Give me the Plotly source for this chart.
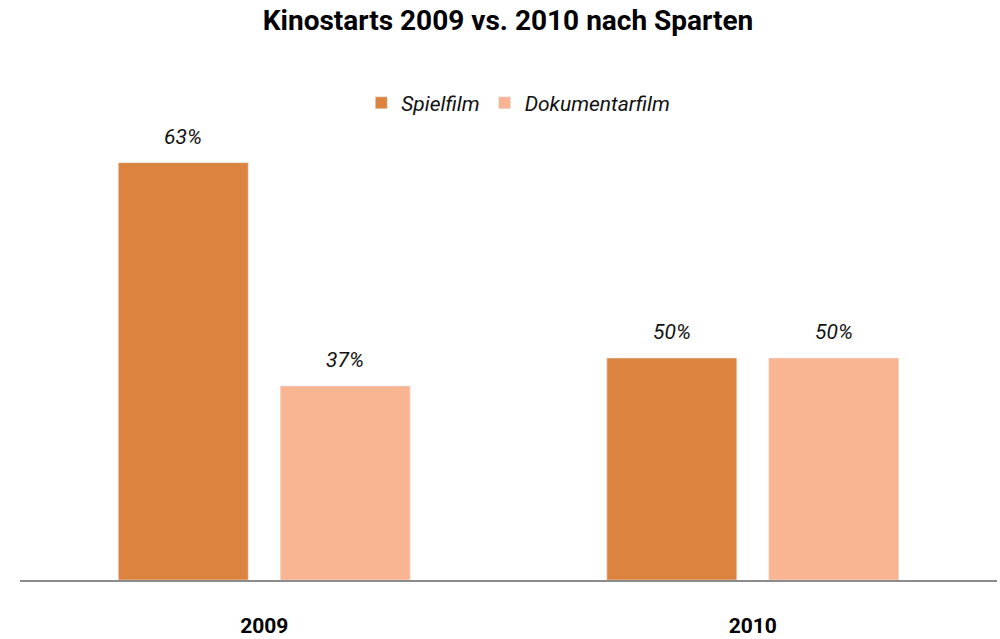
import plotly.graph_objects as go

years = ["2009", "2010"]
spielfilm = [94, 50]          # bar heights as drawn
dokumentarfilm = [43.7, 50]
spielfilm_labels = ["63%", "50%"]
doku_labels = ["37%", "50%"]

c_spiel = "#DC843F"
c_doku = "#F9B591"

fig = go.Figure()
fig.add_trace(go.Bar(name="Spielfilm", x=years, y=spielfilm, marker_color=c_spiel))
fig.add_trace(go.Bar(name="Dokumentarfilm", x=years, y=dokumentarfilm, marker_color=c_doku))

lab_font = dict(family="Roboto", size=21, color="#111", style="italic")
ann = []
for i, yr in enumerate(years):
    ann.append(dict(x=i, y=spielfilm[i], text=spielfilm_labels[i], xshift=-81, yshift=12,
                    yanchor="bottom", showarrow=False, font=lab_font))
    ann.append(dict(x=i, y=dokumentarfilm[i], text=doku_labels[i], xshift=81, yshift=12,
                    yanchor="bottom", showarrow=False, font=lab_font))

fig.update_layout(
    width=1000, height=639,
    margin=dict(l=20, r=3, t=136, b=59, autoexpand=False),
    paper_bgcolor="white", plot_bgcolor="white",
    title=dict(text="<b>Kinostarts 2009 vs. 2010 nach Sparten</b>", x=0.508, xanchor="center",
               y=0.968, yanchor="middle",
               font=dict(family="Roboto", size=28, color="#000")),
    barmode="group", bargap=0.337, bargroupgap=0.1975,
    showlegend=True,
    legend=dict(orientation="h", x=0.51, xanchor="center", y=1.074, yanchor="middle",
                font=lab_font, itemwidth=30, traceorder="normal"),
    xaxis=dict(type="category", range=[-0.5, 1.5], showline=True, linecolor="#8c8c8c",
               linewidth=2, ticks="", ticklabelstandoff=26, automargin=False,
               tickfont=dict(family="Roboto", size=21, color="#000", weight="bold"),
               showgrid=False, zeroline=False),
    yaxis=dict(range=[0, 100], visible=False, showgrid=False, zeroline=False, automargin=False),
    annotations=ann,
)

fig.write_html("out.html", config={"displayModeBar": False},
               post_script="document.body.style.margin='0';")
